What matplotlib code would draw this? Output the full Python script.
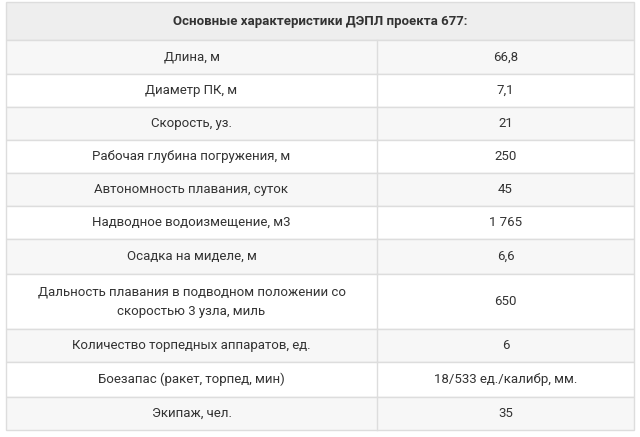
import matplotlib
matplotlib.use("Agg")
import matplotlib.pyplot as plt
from matplotlib.patches import Rectangle

title = "Основные характеристики ДЭПЛ проекта 677:"
params = ["Длина, м", "Диаметр ПК, м", "Скорость, уз.", "Рабочая глубина погружения, м",
          "Автономность плавания, суток", "Надводное водоизмещение, м3", "Осадка на миделе, м",
          "Дальность плавания в подводном положении со\nскоростью 3 узла, миль",
          "Количество торпедных аппаратов, ед.", "Боезапас (ракет, торпед, мин)", "Экипаж, чел."]
values = ["66,8", "7,1", "21", "250", "45", "1 765", "6,6", "650", "6", "18/533 ед./калибр, мм.", "35"]

W, H = 640, 437
bounds = [2, 40, 74, 107, 140, 173, 206, 239, 274, 329, 362, 397, 430]
x0, xm, x1 = 6, 377, 634
line = "#dddddd"

fig = plt.figure(figsize=(6.4, 4.37), dpi=100)
ax = fig.add_axes([0, 0, 1, 1])
ax.set_xlim(0, W); ax.set_ylim(H, 0); ax.axis("off")

ax.add_patch(Rectangle((x0, bounds[0]), x1 - x0, bounds[1] - bounds[0], fc="#eeeeee", ec=line, lw=1))
ax.text((x0 + x1) / 2, (bounds[0] + bounds[1]) / 2, title, ha="center", va="center",
        fontsize=9.5, fontweight="bold", color="#333333", family="Roboto")
for i, (p, v) in enumerate(zip(params, values)):
    t, b = bounds[i + 1], bounds[i + 2]
    fc = "#f7f7f7" if i % 2 == 0 else "white"
    ax.add_patch(Rectangle((x0, t), x1 - x0, b - t, fc=fc, ec=line, lw=1))
    ax.plot([xm, xm], [t, b], color=line, lw=1)
    yc = (t + b) / 2
    ax.text((x0 + xm) / 2, yc, p, ha="center", va="center", fontsize=9.5, color="#333333",
            family="Roboto", linespacing=1.7)
    ax.text((xm + x1) / 2, yc, v, ha="center", va="center", fontsize=9.5, color="#333333",
            family="Roboto")

fig.savefig("out.png", dpi=100, facecolor="white")
